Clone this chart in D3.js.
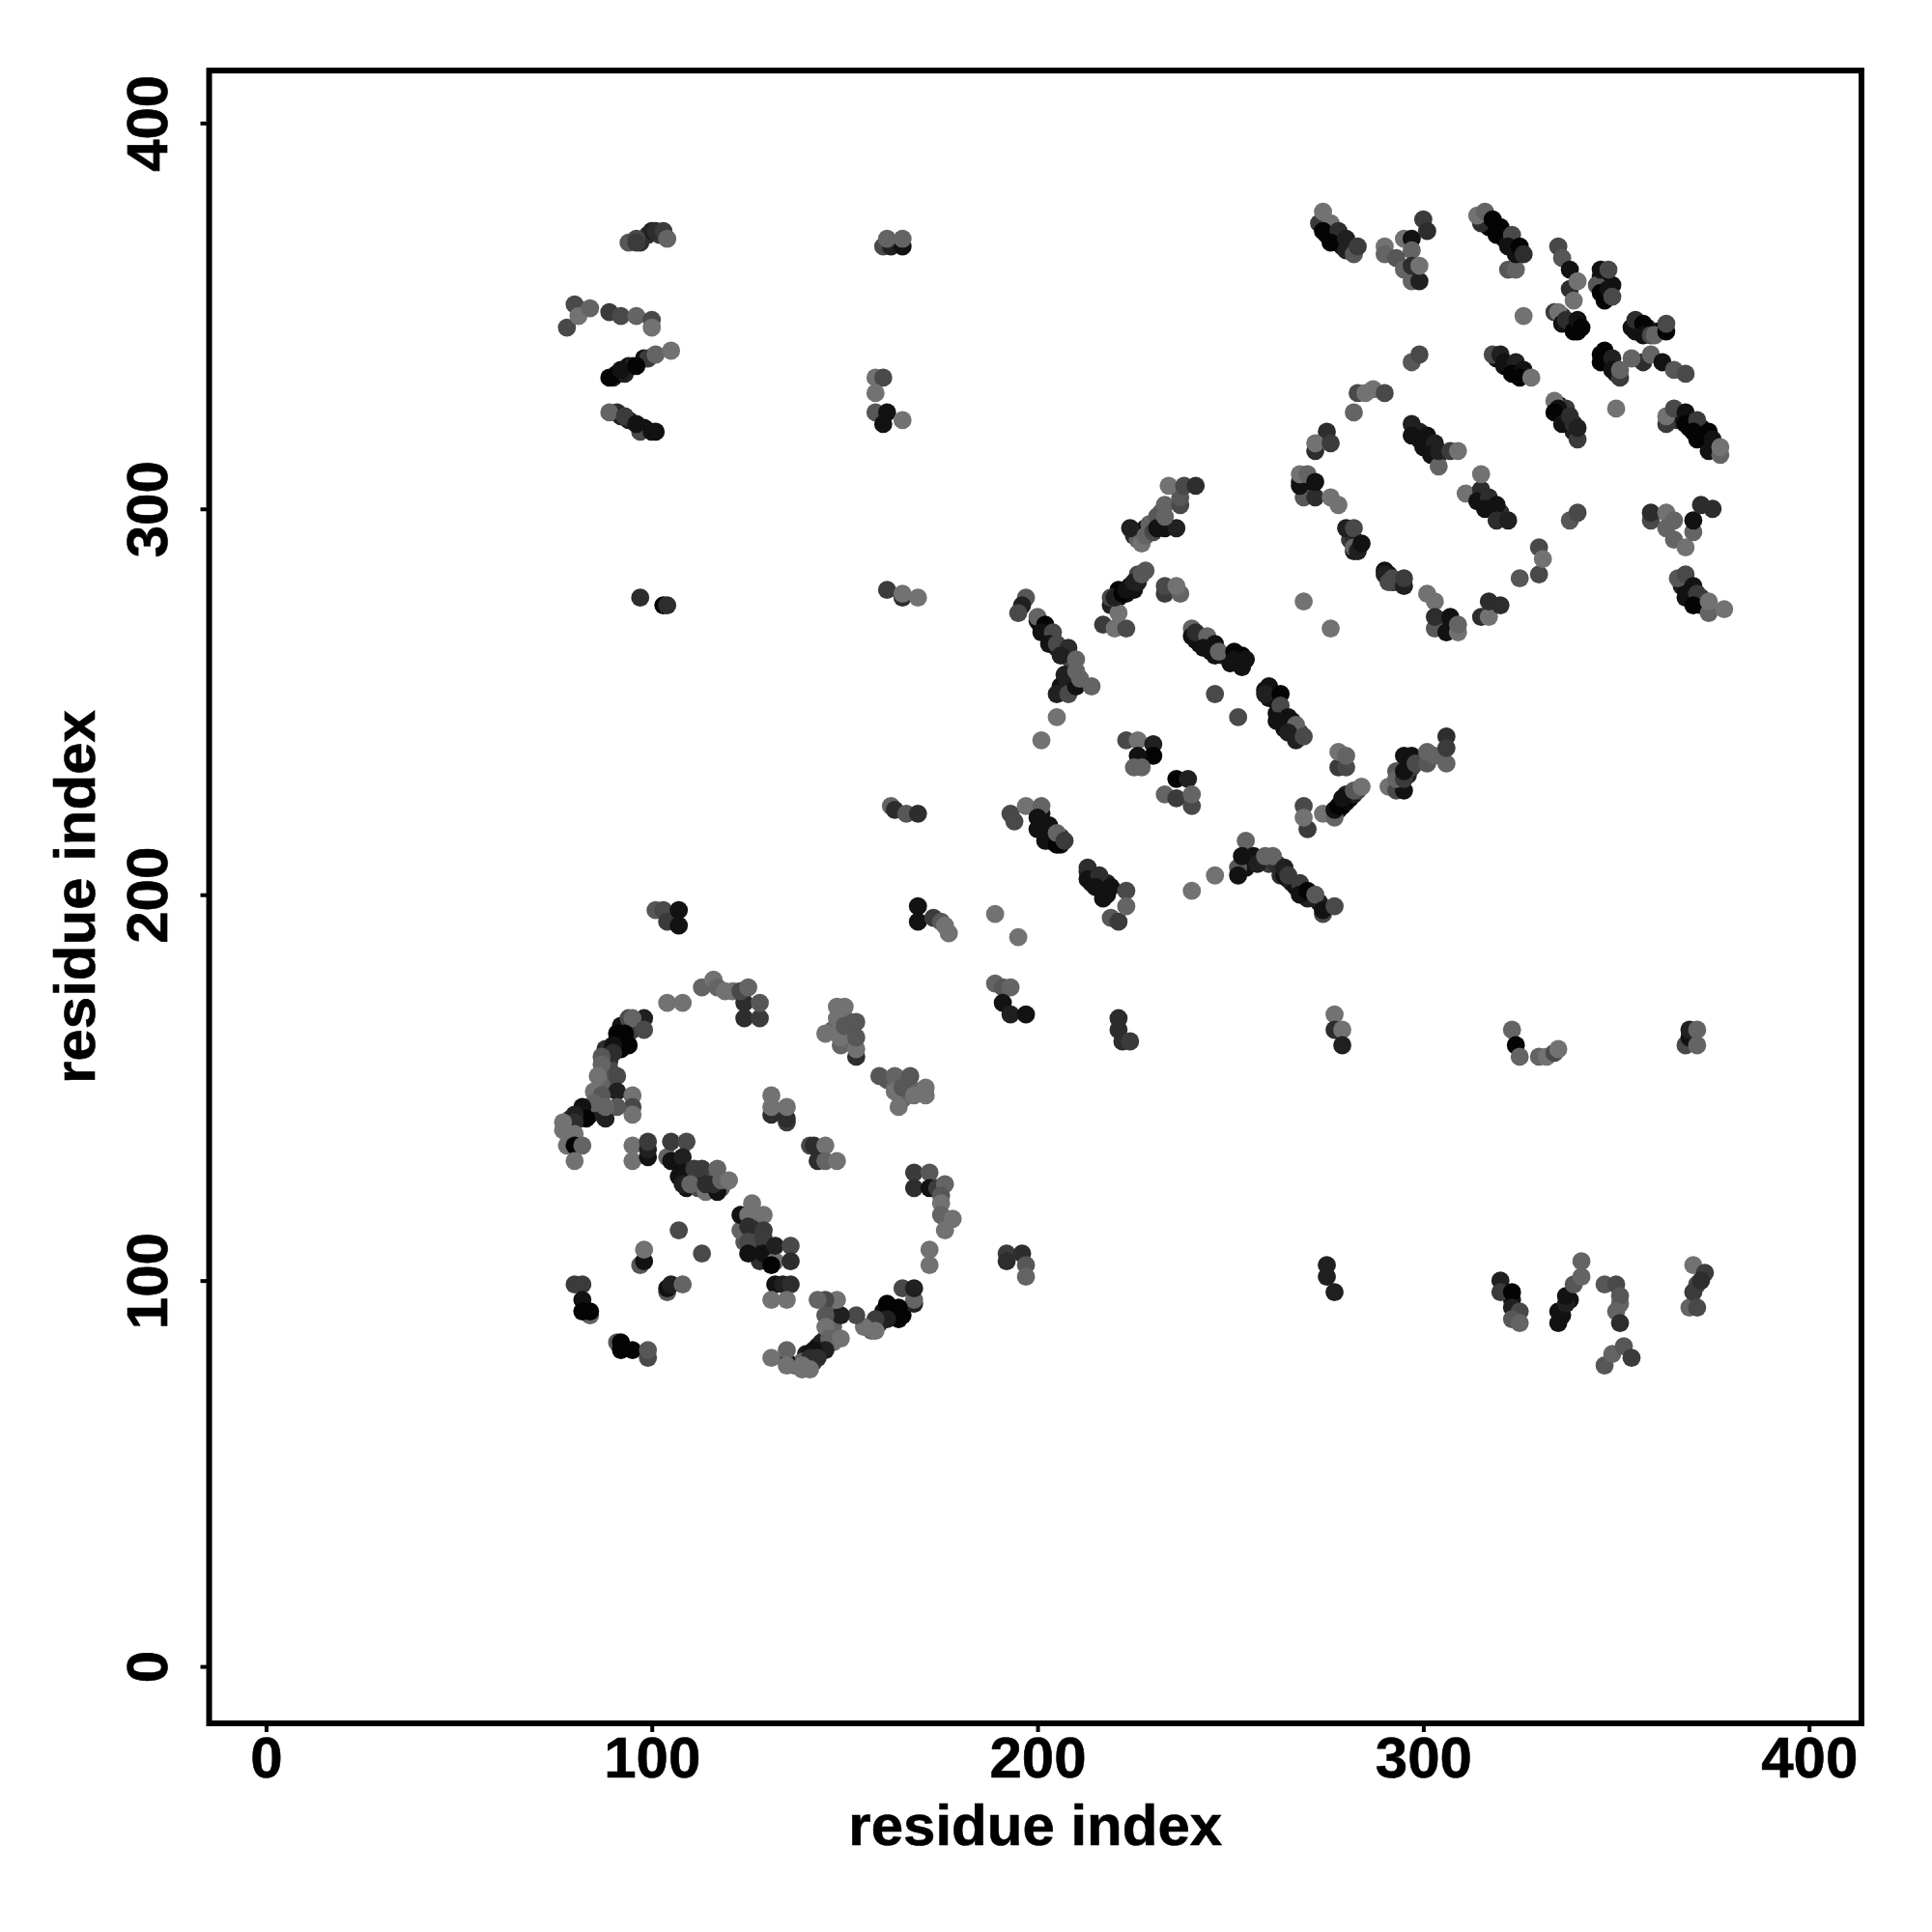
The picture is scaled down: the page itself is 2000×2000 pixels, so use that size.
<!DOCTYPE html>
<html><head><meta charset="utf-8">
<script src="https://cdn.jsdelivr.net/npm/d3@7"></script>
<style>html,body{margin:0;background:#fff}svg{display:block}</style></head>
<body><svg id="c" width="2000" height="2000"></svg>
<script>
const tickValues=[0,100,200,300,400];
const axisLabel="residue index";
// each row: residue i, residue j, shade level (0 = black … 8 = mid grey)
const denseStrandsUpper=[[275,371,1],[277,370,1],[279,368,1],[281,367,2],[317,373,0],[319,371,0],[321,370,0],[322,369,1],[324,367,1],[336,350,2],[338,348,1],[339,347,0],[340,346,0],[355,346,1],[357,346,0],[359,346,1],[361,346,0],[358,347,1],[346,340,0],[347,339,0],[348,338,0],[349,337,1],[350,335,3],[346,360,1],[346,358,0],[347,356,0],[349,358,1],[319,339,1],[321,337,1],[322,337,0],[324,336,0],[326,335,0],[335,327,1],[336,325,1],[337,323,1],[338,322,1],[339,320,2],[336,326,3],[337,326,4],[298,320,2],[299,318,1],[301,317,1],[302,316,1],[304,314,2],[299,320,2],[315,304,2],[316,303,1],[317,301,0],[318,300,1],[319,299,1],[320,299,3],[366,323,3],[367,324,1],[369,321,0],[369,323,1],[371,319,0],[372,321,0],[373,318,0],[374,317,0],[375,316,1],[376,316,2],[367,280,2],[368,279,1],[369,278,1],[370,277,1],[371,276,0],[372,275,1],[373,275,0],[372,277,3],[268,307,2],[269,306,2],[270,306,2],[271,305,2],[270,307,4],[269,305,1],[281,292,4],[282,292,3],[282,289,2],[283,291,1],[291,283,1],[292,281,1],[293,281,4],[294,281,3],[304,270,2],[305,270,1],[305,271,0],[307,269,0],[308,269,2],[305,269,1],[306,271,2]];
const denseStrandsCentre=[[219,275,2],[221,277,1],[221,279,0],[223,278,1],[224,280,0],[225,279,1],[226,281,2],[226,283,5],[219,277,5],[225,293,3],[226,294,4],[226,292,7],[228,295,1],[229,294,4],[230,296,6],[229,296,7],[231,298,6],[232,299,6],[200,271,1],[201,269,0],[202,268,1],[203,267,0],[204,266,1],[205,264,2],[206,263,1],[207,262,2],[208,262,3],[209,260,5],[206,254,1],[207,254,1],[208,255,2],[241,266,1],[242,265,1],[244,264,1],[245,263,1],[248,262,3],[250,262,0],[252,260,0],[252,262,0],[250,260,1],[253,262,0],[259,253,1],[260,251,1],[261,252,0],[262,250,1],[262,247,1],[263,246,1],[264,245,1],[266,245,2],[264,243,1],[266,242,1],[268,242,4],[277,221,1],[278,222,1],[279,223,0],[280,224,1],[281,225,0],[282,226,2],[283,227,5],[280,226,2],[294,228,5],[296,231,2],[296,234,2],[297,233,4],[299,235,5],[293,232,6],[297,236,1],[201,221,1],[201,219,1],[202,217,0],[203,216,1],[204,215,1],[205,214,0],[206,215,3],[206,213,1],[203,214,1],[213,206,2],[214,205,2],[214,203,1],[215,204,2],[216,203,1],[217,201,1],[218,200,1],[218,203,2],[258,209,2],[260,208,4],[262,208,3],[263,205,3],[264,205,1],[265,204,1],[266,203,2],[267,202,1],[269,201,1],[270,199,2],[255,209,0],[254,207,1],[273,198,2]];
const denseStrandsLower=[[90,334,2],[91,335,0],[93,335,2],[94,337,1],[95,337,2],[98,339,1],[99,339,4],[94,323,2],[98,321,1],[101,320,1],[91,325,3],[92,324,2],[97,369,3],[99,371,3],[100,372,2],[102,371,4],[88,142,2],[83,144,1],[84,143,2],[81,142,3],[79,142,4],[89,160,1],[91,162,0],[92,160,0],[93,162,0],[89,157,3],[88,160,3],[89,155,5],[88,152,6],[87,151,7],[95,165,4],[92,166,1],[107,127,1],[109,127,2],[110,127,1],[109,124,1],[112,127,3],[112,124,5],[113,127,2],[115,126,4],[115,124,1],[116,127,6],[117,125,5],[118,124,7],[124,116,2],[124,114,3],[126,115,5],[126,112,4],[127,113,3],[127,110,5],[128,109,2],[126,108,2],[124,110,6],[128,105,3],[150,168,6],[151,167,6],[152,165,6],[151,164,6],[149,166,6],[151,162,7],[147,165,7],[149,161,7],[161,152,6],[164,151,6],[165,152,6],[166,149,6],[163,150,7],[165,147,7],[167,150,7],[169,149,7],[160,92,1],[162,92,1],[163,91,0],[165,91,0],[159,89,3],[156,88,7],[157,87,7],[146,91,6],[147,88,7],[145,85,7],[147,84,8],[143,83,2],[144,84,2],[140,81,2],[141,81,1],[139,79,7],[137,78,7],[142,79,4],[323,95,1],[336,91,1],[338,95,1],[351,94,7],[371,99,5]];
const lowerLeftArc=[[98,168,2],[94,168,5],[95,168,7],[98,165,5],[91,164,0],[93,164,0],[94,161,0],[90,161,1],[90,159,3],[87,158,6],[87,156,7],[86,153,8],[91,153,5],[91,149,2],[95,148,8],[85,149,8],[87,148,6],[95,145,5],[95,143,8],[91,145,6],[88,145,7],[85,146,7],[82,145,1],[83,142,0],[80,143,2],[80,141,3],[77,141,8],[77,139,8],[80,138,8],[78,135,8],[80,135,0],[82,135,7],[80,131,8],[104,172,8],[108,172,8],[113,176,7],[116,178,8],[117,176,7],[119,175,8],[121,175,8],[124,168,3],[128,168,4],[124,172,3],[123,175,5],[128,172,6],[125,176,7]];
const lowerLeftCore=[[95,135,8],[95,131,8],[99,132,1],[99,134,2],[99,136,4],[104,132,7],[105,131,1],[105,136,4],[109,136,5],[108,132,2],[108,128,1],[108,125,2],[111,129,4],[110,125,7],[113,129,4],[114,123,8],[114,125,3],[117,123,1],[116,125,3],[117,129,7],[118,126,7],[120,126,8],[123,113,7],[123,117,1],[126,120,8],[125,117,8],[129,117,8],[125,114,3],[129,113,4],[125,110,5],[129,111,4],[125,107,1],[129,107,1],[132,105,8],[131,104,0],[132,109,2],[136,109,5],[136,105,3],[132,99,1],[134,99,2],[136,99,3],[131,95,8],[135,95,8]];
const lowerLeftBlocks=[[131,143,3],[131,148,8],[131,145,8],[135,141,4],[135,142,3],[135,145,8],[141,135,5],[142,135,3],[145,135,8],[143,131,3],[145,131,7],[148,131,8],[145,164,8],[148,171,8],[150,171,8],[148,168,8],[148,164,8],[149,163,8],[150,166,6],[153,167,6],[153,158,3],[153,160,8],[153,163,6],[159,153,6],[163,153,7],[167,153,6],[163,149,8],[165,150,6],[164,145,8],[168,148,8],[171,150,8],[171,148,8],[168,128,4],[172,128,6],[168,124,3],[172,124,1],[174,124,4],[176,125,7],[175,122,6],[175,120,8],[175,117,7],[178,116,8],[176,113,8],[172,108,8],[172,104,8]];
const lowerLeftTail=[[168,94,2],[165,98,5],[168,95,7],[168,98,2],[161,94,0],[164,93,0],[164,90,0],[161,90,2],[158,90,4],[158,87,8],[155,88,8],[153,91,5],[149,91,2],[148,95,8],[145,95,5],[143,95,7],[145,91,6],[145,88,8],[146,85,7],[149,85,8],[145,82,2],[142,82,1],[141,80,3],[143,80,3],[135,79,1],[135,82,7],[131,80,8],[135,78,8],[139,78,8],[141,77,8],[139,77,8],[97,104,6],[98,105,1],[98,108,8],[107,113,5],[113,107,5],[104,97,6],[104,98,1],[105,99,2],[108,99,7],[80,99,4],[82,99,4],[82,95,1],[84,91,7],[82,92,0],[84,92,0],[91,84,6],[92,84,0],[92,82,0],[95,82,0],[99,80,5],[99,82,6]];
const stripsAtTop=[[94,369,6],[96,370,5],[96,369,4],[101,372,3],[103,372,4],[104,370,7],[78,347,5],[80,353,5],[81,350,8],[84,352,7],[89,351,4],[92,350,5],[96,350,7],[100,349,5],[100,347,8],[89,334,0],[92,336,1],[96,337,0],[101,340,7],[105,341,8],[89,325,7],[93,324,4],[97,320,5],[96,322,1],[100,320,1],[97,277,3],[103,275,0],[104,275,3],[101,196,6],[103,196,5],[104,193,4],[107,196,1],[107,192,1],[160,368,5],[162,368,2],[165,368,1],[161,370,7],[165,370,7],[158,334,8],[160,334,5],[158,330,8],[158,325,6],[161,325,1],[160,322,1],[165,323,8],[161,279,4],[165,277,3],[165,278,8],[169,277,8],[162,223,7],[163,222,3],[166,221,6],[169,221,3]];
const offDiagonal=[[169,197,1],[169,193,1],[173,194,4],[175,193,6],[177,190,8],[176,192,8],[189,195,8],[195,189,8],[189,177,7],[191,176,6],[193,176,7],[191,172,1],[193,169,2],[197,169,1],[221,168,3],[221,165,3],[222,162,3],[224,162,4],[277,169,8],[277,165,3],[279,165,8],[279,161,2],[323,165,7],[324,161,0],[325,158,7],[330,158,7],[332,158,8],[334,159,5],[335,160,8],[368,161,5],[369,163,1],[369,165,2],[371,165,7],[371,161,7],[192,107,4],[196,107,3],[192,105,3],[197,104,6],[197,101,7],[275,104,2],[275,101,2],[277,97,2],[320,100,2],[320,97,4],[323,97,0],[323,93,2],[325,92,5],[323,90,6],[325,89,7],[335,89,1],[335,92,1],[337,94,2],[337,96,1],[339,99,6],[341,101,7],[341,105,7],[347,99,6],[350,99,5],[351,96,6],[350,92,7],[351,89,3],[347,78,6],[349,81,7],[352,83,6],[354,80,4],[369,93,7],[370,97,4],[371,93,5],[370,104,8],[373,102,4],[372,100,3]];
const centreBlocks=[[224,295,2],[227,291,8],[228,293,7],[230,294,5],[231,295,1],[233,295,1],[236,295,2],[233,301,7],[237,301,5],[233,298,7],[237,303,6],[234,306,8],[238,306,5],[241,306,3],[217,270,4],[220,269,8],[223,269,5],[221,273,8],[220,277,2],[222,278,0],[223,279,1],[225,281,2],[227,283,6],[228,284,6],[233,278,4],[233,280,5],[237,278,7],[236,280,8],[197,277,6],[196,275,2],[195,273,5],[200,272,7],[202,270,0],[201,268,1],[204,268,5],[203,265,1],[205,265,5],[208,264,3],[206,262,2],[205,252,2],[208,252,5],[210,254,1],[207,257,2],[210,261,7],[210,258,7],[211,256,7],[214,254,7],[205,246,8],[201,240,8],[269,276,8],[276,269,8],[246,252,5],[252,246,5],[240,201,8],[246,205,8]];
const centreStrands=[[240,269,7],[240,267,1],[241,268,3],[244,267,7],[243,264,1],[246,265,1],[246,262,1],[247,263,7],[251,263,0],[251,261,1],[254,261,1],[253,259,1],[260,254,1],[259,252,2],[263,252,0],[263,249,5],[262,245,1],[265,246,1],[267,244,7],[265,242,2],[267,240,2],[269,241,5],[278,233,4],[280,233,5],[278,237,8],[280,236,7],[269,223,5],[270,217,4],[269,220,8],[274,221,8],[277,220,7],[277,222,1],[278,223,0],[279,225,1],[282,227,6],[284,228,8],[291,228,8],[293,227,5],[295,227,1],[293,230,7],[295,230,4],[295,232,1],[295,236,1],[298,234,5],[301,234,6],[301,237,7],[303,236,7],[306,234,7],[306,241,3],[306,238,4],[223,240,5],[226,240,8],[230,239,2],[230,236,0],[226,236,1],[225,233,7],[227,233,7],[236,230,0],[239,230,2],[233,226,7],[236,225,4],[240,223,5],[240,226,7]];
const centreLower=[[193,221,5],[194,219,5],[197,223,8],[201,223,7],[200,220,1],[200,217,1],[203,218,1],[202,214,1],[205,213,0],[205,216,7],[207,214,4],[213,207,3],[213,204,1],[216,205,3],[215,202,1],[219,202,1],[217,199,1],[223,201,5],[219,194,6],[221,193,4],[223,197,7],[252,207,6],[252,205,1],[254,214,7],[253,210,1],[256,210,1],[257,208,2],[259,210,7],[261,210,7],[264,207,2],[265,205,4],[268,203,4],[268,200,1],[270,201,0],[272,200,6],[274,195,5],[274,196,1],[277,197,5]];
const upperRightA=[[273,374,4],[274,377,8],[276,374,8],[274,372,0],[278,372,3],[276,369,0],[280,370,2],[280,367,2],[282,366,6],[283,368,4],[290,368,8],[290,366,7],[295,370,8],[297,370,1],[300,375,4],[301,372,3],[297,367,7],[293,365,6],[295,362,7],[297,359,7],[299,359,2],[297,363,3],[299,363,8],[315,374,3],[314,376,8],[316,377,7],[318,375,0],[319,372,0],[320,373,0],[323,371,5],[322,362,6],[324,362,7],[322,368,1],[324,366,1],[325,368,0],[326,366,3],[335,368,5],[336,365,6],[338,362,1],[338,357,3],[340,359,8],[339,354,8],[345,358,6],[346,362,1],[348,362,5],[346,356,0],[347,354,0],[348,357,1],[349,355,5]];
const upperRightB=[[326,350,8],[334,351,4],[335,351,8],[336,348,1],[337,349,3],[339,346,0],[340,349,1],[341,347,0],[354,347,1],[355,349,3],[357,348,0],[357,345,1],[359,345,5],[360,345,7],[363,346,0],[363,348,5],[357,338,3],[354,339,7],[359,340,7],[362,338,1],[365,336,6],[368,335,5],[347,341,0],[346,338,0],[349,339,2],[349,336,1],[351,334,4],[351,336,7],[350,326,8],[297,338,6],[299,340,5],[318,340,5],[320,340,2],[321,338,1],[324,338,2],[323,335,0],[326,336,1],[325,334,0],[328,334,8],[283,330,5],[285,330,8],[287,331,8],[290,330,5],[282,325,7],[334,328,8],[335,326,1],[334,325,0],[336,322,1],[338,324,3],[339,322,3],[340,318,4],[340,321,2]];
const upperRightC=[[363,322,4],[363,324,8],[365,326,5],[368,325,1],[368,322,0],[371,323,4],[370,320,0],[374,320,0],[371,318,0],[375,318,1],[374,315,1],[377,314,7],[377,316,8],[272,315,3],[275,320,3],[272,317,8],[276,317,4],[297,322,2],[297,319,1],[301,319,1],[300,316,1],[303,317,2],[302,314,1],[304,311,7],[304,315,2],[307,315,4],[309,315,8],[269,303,6],[272,303,3],[268,306,1],[268,309,8],[270,309,7],[272,307,1],[276,303,8],[278,301,8],[280,295,2],[282,295,5],[282,290,7],[283,289,2],[284,291,1],[290,284,1],[290,283,2],[291,281,5],[292,282,5],[295,280,2],[295,282,4],[301,278,8],[303,276,8],[303,269,6],[303,272,3],[306,268,1],[307,272,1],[309,268,8],[309,270,7],[315,272,3],[317,272,8],[317,276,3],[320,275,3],[330,283,5],[330,290,5],[331,287,8],[325,282,6],[338,297,6],[340,299,5]];
const upperRightD=[[311,304,8],[315,305,3],[315,309,8],[314,302,1],[317,303,3],[316,300,1],[319,301,1],[319,297,3],[322,297,2],[359,297,5],[359,299,3],[363,299,8],[363,295,7],[365,297,7],[365,292,7],[368,290,8],[370,294,7],[370,297,1],[372,301,3],[375,300,3],[366,282,6],[368,283,5],[370,280,1],[368,277,1],[371,278,4],[370,275,0],[374,273,7],[374,276,8],[378,274,8]];
const pointGroups=[denseStrandsUpper,denseStrandsCentre,denseStrandsLower,lowerLeftArc,lowerLeftCore,lowerLeftBlocks,lowerLeftTail,stripsAtTop,offDiagonal,centreBlocks,centreStrands,centreLower,upperRightA,upperRightB,upperRightC,upperRightD];

const svg=d3.select("#c");
const L=216.5,R=1927,T=73,B=1784,dom=[-14.75,413.6];
const x=d3.scaleLinear().domain(dom).range([L,R]);
const y=d3.scaleLinear().domain(dom).range([B,T]);
const shade=d3.scaleLinear().domain([0,8]).range(["#040404","#727272"]);
const font="'Liberation Sans',Arial,sans-serif";

svg.append("g").selectAll("circle").data(pointGroups.flat()).join("circle")
  .attr("cx",d=>x(d[0])).attr("cy",d=>y(d[1])).attr("r",9.4).attr("fill",d=>shade(d[2]));

svg.append("rect").attr("x",L).attr("y",T).attr("width",R-L).attr("height",B-T)
  .attr("fill","none").attr("stroke","#000").attr("stroke-width",6);

const ax=svg.append("g").attr("transform",`translate(0,${B})`).call(d3.axisBottom(x).tickValues(tickValues).tickSize(9).tickSizeOuter(0).tickFormat(d3.format("d")));
const ay=svg.append("g").attr("transform",`translate(${L},0)`).call(d3.axisLeft(y).tickValues(tickValues).tickSize(9).tickSizeOuter(0).tickFormat(d3.format("d")));
[ax,ay].forEach(a=>{a.select(".domain").remove();a.selectAll("line").attr("stroke","#000").attr("stroke-width",4);
  a.selectAll("text").attr("font-family",font).attr("font-weight","bold").attr("font-size",60).attr("fill","#000").attr("stroke","#000").attr("stroke-width",0.6);});
ax.selectAll("text").attr("y",0).attr("dy",0).attr("transform","translate(0,56)").attr("text-anchor","middle");
ay.selectAll("text").attr("x",0).attr("dy",0).attr("text-anchor","middle").attr("transform","translate(-44,0) rotate(-90)");

svg.append("text").attr("x",(L+R)/2).attr("y",1910).attr("text-anchor","middle")
  .attr("font-family",font).attr("font-weight","bold").attr("font-size",60).attr("stroke","#000").attr("stroke-width",0.6).text(axisLabel);
svg.append("text").attr("transform",`translate(98,${(T+B)/2}) rotate(-90)`).attr("text-anchor","middle")
  .attr("font-family",font).attr("font-weight","bold").attr("font-size",60).attr("stroke","#000").attr("stroke-width",0.6).text(axisLabel);
</script></body></html>
